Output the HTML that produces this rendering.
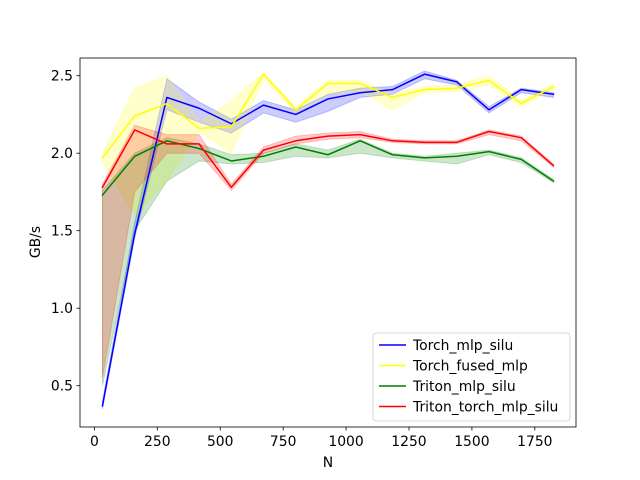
<!DOCTYPE html>
<html><head><meta charset="utf-8"><style>
html,body{margin:0;padding:0;background:#fff}
svg{display:block;font-family:"DejaVu Sans","Liberation Sans",sans-serif}
</style></head><body>
<svg id="chart" width="640" height="480" viewBox="0 0 640 480" xmlns="http://www.w3.org/2000/svg">
<rect x="0" y="0" width="640" height="480" fill="#fff"/>
<g id="bands"></g>
<g id="lines"></g>
<g id="axes"></g>
<g id="legend"></g>
</svg>
<script>
const nValues = [32,160,288,416,544,672,800,928,1056,1184,1312,1440,1568,1696,1824];
const seriesNames = ["Torch_mlp_silu","Torch_fused_mlp","Triton_mlp_silu","Triton_torch_mlp_silu"];
const seriesColors = ["#0000ff","#ffff00","#008000","#ff0000"];
const torchMlpSilu = [0.37,1.48,2.36,2.29,2.19,2.31,2.25,2.35,2.39,2.41,2.51,2.46,2.28,2.41,2.38];
const torchMlpSiluLo = [0.35,1.45,2.28,2.20,2.13,2.26,2.20,2.27,2.36,2.38,2.48,2.44,2.26,2.39,2.36];
const torchMlpSiluHi = [0.40,1.55,2.48,2.33,2.22,2.34,2.28,2.38,2.42,2.43,2.53,2.47,2.30,2.42,2.39];
const torchFusedMlp = [1.97,2.24,2.32,2.16,2.17,2.51,2.28,2.45,2.45,2.36,2.41,2.42,2.47,2.32,2.43];
const torchFusedMlpLo = [1.95,1.60,1.82,2.14,2.00,2.48,2.26,2.38,2.40,2.28,2.39,2.40,2.44,2.30,2.41];
const torchFusedMlpHi = [2.00,2.42,2.50,2.20,2.34,2.52,2.30,2.47,2.47,2.38,2.43,2.44,2.50,2.34,2.45];
const tritonMlpSilu = [1.73,1.98,2.08,2.03,1.95,1.98,2.04,1.99,2.08,1.99,1.97,1.98,2.01,1.96,1.82];
const tritonMlpSiluLo = [0.50,1.50,1.82,1.95,1.93,1.94,1.98,1.97,2.00,1.97,1.95,1.93,1.99,1.94,1.81];
const tritonMlpSiluHi = [1.76,2.00,2.10,2.06,1.99,2.00,2.06,2.02,2.09,2.00,1.98,2.00,2.02,1.97,1.83];
const tritonTorchMlpSilu = [1.78,2.15,2.06,2.06,1.78,2.02,2.08,2.11,2.12,2.08,2.07,2.07,2.14,2.10,1.92];
const tritonTorchMlpSiluLo = [0.55,1.75,2.00,2.00,1.76,2.00,2.06,2.09,2.10,2.07,2.06,2.06,2.12,2.08,1.91];
const tritonTorchMlpSiluHi = [1.80,2.18,2.12,2.12,1.80,2.04,2.11,2.13,2.14,2.09,2.08,2.08,2.15,2.11,1.93];
const xTicks = [0,250,500,750,1000,1250,1500,1750];
const yTicks = [0.5,1.0,1.5,2.0,2.5];
const yTickLabels = ["0.5","1.0","1.5","2.0","2.5"];

const NS="http://www.w3.org/2000/svg";
const L=80,R=576,T=58,B=427;
function xs(v){return 94.4+v*0.25167;}
function ys(v){return 75.7+(2.5-v)*155;}
function mk(tag,attrs,parent){const e=document.createElementNS(NS,tag);for(const k in attrs)e.setAttribute(k,attrs[k]);parent.appendChild(e);return e;}
const bands=document.getElementById('bands'),lines=document.getElementById('lines'),axes=document.getElementById('axes'),legend=document.getElementById('legend');
const allSeries=[[torchMlpSilu,torchMlpSiluLo,torchMlpSiluHi],[torchFusedMlp,torchFusedMlpLo,torchFusedMlpHi],[tritonMlpSilu,tritonMlpSiluLo,tritonMlpSiluHi],[tritonTorchMlpSilu,tritonTorchMlpSiluLo,tritonTorchMlpSiluHi]];
allSeries.forEach((s,i)=>{
  const [m,lo,hi]=s;
  let d=nValues.map((n,j)=>(j?'L':'M')+xs(n).toFixed(2)+','+ys(hi[j]).toFixed(2)).join('');
  for(let j=nValues.length-1;j>=0;j--)d+='L'+xs(nValues[j]).toFixed(2)+','+ys(lo[j]).toFixed(2);
  const b=mk('path',{d:d+'Z',fill:seriesColors[i],'fill-opacity':0.2,stroke:seriesColors[i],'stroke-opacity':0.2,'stroke-width':1},bands);
  
  
});
allSeries.forEach((s,i)=>{
  const m=s[0];
  const pts=nValues.map((n,j)=>xs(n).toFixed(2)+','+ys(m[j]).toFixed(2)).join(' ');
  const p=mk('polyline',{points:pts,fill:'none',stroke:seriesColors[i],'stroke-width':1.5,'stroke-linejoin':'round','stroke-linecap':'square'},lines);
  
  
});
const frame=mk('rect',{x:L,y:T,width:R-L,height:B-T,fill:'none',stroke:'#000','stroke-width':0.8},axes);


xTicks.forEach(t=>{
  const x=xs(t);
  mk('line',{x1:x,y1:B,x2:x,y2:B+3.5,stroke:'#000','stroke-width':0.8},axes);
  const tx=mk('text',{x:x,y:B+19,'text-anchor':'middle','font-size':13.9,fill:'#000'},axes);
  tx.textContent=t;
  
  
});
yTicks.forEach((t,i)=>{
  const y=ys(t);
  mk('line',{x1:L,y1:y,x2:L-3.5,y2:y,stroke:'#000','stroke-width':0.8},axes);
  const tx=mk('text',{x:L-7,y:y+5,'text-anchor':'end','font-size':13.9,fill:'#000'},axes);
  tx.textContent=yTickLabels[i];
  
  
});
const xt=mk('text',{x:328,y:467,'text-anchor':'middle','font-size':13.9,fill:'#000'},axes);
xt.textContent='N';


const yt=mk('text',{x:0,y:0,'text-anchor':'middle','font-size':13.9,fill:'#000',transform:'translate(40,242) rotate(-90)'},axes);
yt.textContent='GB/s';


const lb=mk('rect',{x:373,y:333,width:197,height:88,rx:3,fill:'#fff','fill-opacity':0.8,stroke:'#ccc','stroke-width':0.8},legend);


seriesNames.forEach((nm,i)=>{
  const y=345+i*20.5;
  const g=mk('g',{},legend);
  
  
  mk('line',{x1:379,y1:y,x2:406,y2:y,stroke:seriesColors[i],'stroke-width':1.5},g);
  const t=mk('text',{x:413,y:y+5,'font-size':13.9,fill:'#000'},g);
  t.textContent=nm;
});
</script>
</body></html>
